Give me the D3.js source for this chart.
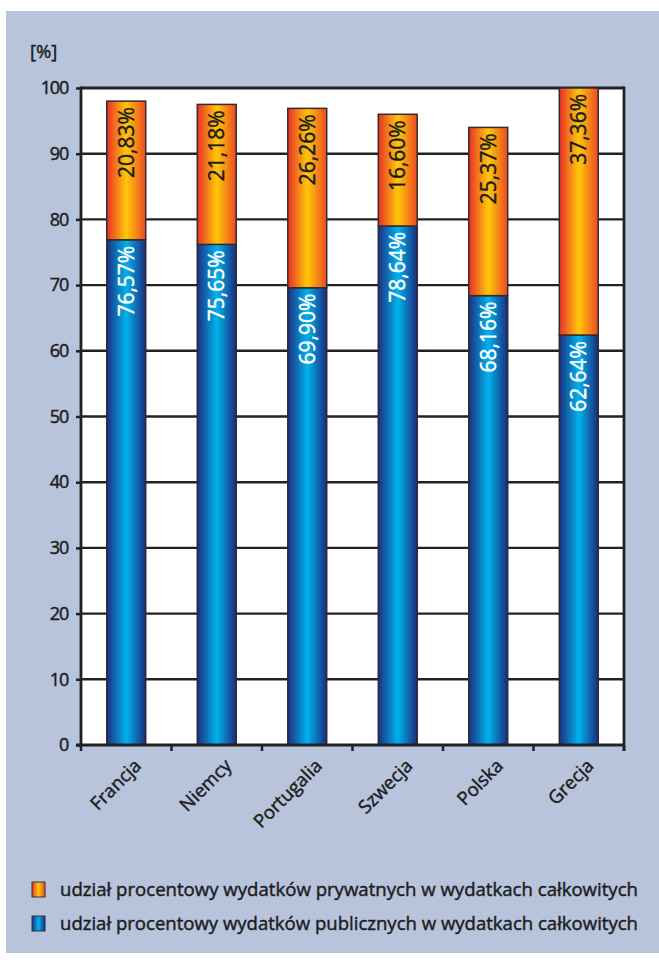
<!DOCTYPE html>
<html><head><meta charset="utf-8">
<script src="https://cdn.jsdelivr.net/npm/d3@7"></script>
<style>
html,body{margin:0;padding:0;background:#fff;}
svg{display:block;font-family:"Open Sans","Noto Sans",sans-serif;}
</style></head>
<body>
<svg id="c" width="659" height="965"></svg>
<script>
const categories = ["Francja","Niemcy","Portugalia","Szwecja","Polska","Grecja"];
// drawn heights
const publicValues = [76.9, 76.2, 69.6, 79.0, 68.4, 62.4];
const privateValues = [21.1, 21.3, 27.3, 17.0, 25.6, 37.6];
// printed labels
const publicLabels = ["76,57%","75,65%","69,90%","78,64%","68,16%","62,64%"];
const privateLabels = ["20,83%","21,18%","26,26%","16,60%","25,37%","37,36%"];
const yTicks = [0,10,20,30,40,50,60,70,80,90,100];
const legendLabels = ["udział procentowy wydatków prywatnych w wydatkach całkowitych",
                      "udział procentowy wydatków publicznych w wydatkach całkowitych"];

const svg = d3.select("#c");
svg.append("rect").attr("x",6).attr("y",11).attr("width",653).attr("height",942).attr("fill","#b8c3dc");

const L=81, R=624, T=88, B=745;
const x = d3.scaleBand().domain(categories).range([L,R]).paddingInner(0.57).paddingOuter(0.285);
const y = d3.scaleLinear().domain([0,100]).range([B,T]);

const defs = svg.append("defs");
const go = defs.append("linearGradient").attr("id","gOr").attr("x1","0").attr("x2","1").attr("y1","0").attr("y2","0");
[[0,"#e8302a"],[0.5,"#ffc808"],[1,"#ec4a24"]].forEach(s=>go.append("stop").attr("offset",s[0]).attr("stop-color",s[1]));
const gb = defs.append("linearGradient").attr("id","gBl").attr("x1","0").attr("x2","1").attr("y1","0").attr("y2","0");
[[0,"#1d2f80"],[0.5,"#00b3ee"],[1,"#1b2c7c"]].forEach(s=>gb.append("stop").attr("offset",s[0]).attr("stop-color",s[1]));

// plot area
svg.append("rect").attr("x",L).attr("y",T).attr("width",R-L).attr("height",B-T).attr("fill","#fff");

// gridlines
svg.append("g").selectAll("line").data(yTicks.filter(d=>d>0)).join("line")
  .attr("x1",L).attr("x2",R).attr("y1",d=>y(d)).attr("y2",d=>y(d))
  .attr("stroke","#222").attr("stroke-width",d=>d===100?3:2.4);
// right frame
svg.append("line").attr("x1",R).attr("x2",R).attr("y1",T-1.5).attr("y2",B+6).attr("stroke","#222").attr("stroke-width",2.8);

const ink = "#1d1d1d";
function heavy(sel, col){ return sel.attr("stroke",col).attr("stroke-width",0.45).attr("paint-order","stroke"); }

// bars
const bars = svg.append("g");
categories.forEach((c,i)=>{
  const bx = x(c), bw = x.bandwidth();
  bars.append("rect").attr("x",bx).attr("width",bw)
    .attr("y",y(publicValues[i])).attr("height",y(0)-y(publicValues[i]))
    .attr("fill","url(#gBl)").attr("stroke","#2a2a3a").attr("stroke-width",1.5);
  const top = publicValues[i]+privateValues[i];
  bars.append("rect").attr("x",bx).attr("width",bw)
    .attr("y",y(top)).attr("height",y(publicValues[i])-y(top))
    .attr("fill","url(#gOr)").attr("stroke","#3a2a2a").attr("stroke-width",1.5);
  const cx = bx + bw/2 + 7.5;
  heavy(bars.append("text").attr("transform",`translate(${cx},${y(top)+6}) rotate(-90)`)
    .attr("text-anchor","end").attr("font-size",21).attr("fill",ink).text(privateLabels[i]), ink);
  heavy(bars.append("text").attr("transform",`translate(${cx},${y(publicValues[i])+6}) rotate(-90)`)
    .attr("text-anchor","end").attr("font-size",21).attr("fill","#fff").text(publicLabels[i]), "#fff");
});

// y axis
const ya = svg.append("g").attr("transform",`translate(${L},0)`)
  .call(d3.axisLeft(y).tickValues(yTicks).tickSize(5).tickPadding(8));
ya.select(".domain").attr("stroke","#222").attr("stroke-width",2.8).attr("d",`M0,${T-1.5}V${B}`);
ya.selectAll(".tick line").attr("stroke","#222").attr("stroke-width",2.5);
heavy(ya.selectAll(".tick text").attr("font-size",18).attr("fill",ink).attr("font-family","Open Sans").attr("letter-spacing",-1.2), ink);

// x axis
const xa = svg.append("g").attr("transform",`translate(0,${B})`);
xa.append("line").attr("x1",L-5).attr("x2",R).attr("y1",0).attr("y2",0).attr("stroke","#222").attr("stroke-width",3);
const bounds = d3.range(categories.length+1).map(k=>L+k*(R-L)/categories.length);
xa.selectAll("line.t").data(bounds).join("line").attr("class","t")
  .attr("x1",d=>d).attr("x2",d=>d).attr("y1",0).attr("y2",6).attr("stroke","#222").attr("stroke-width",2.5);
heavy(xa.selectAll("text").data(categories).join("text")
  .attr("transform",d=>`translate(${x(d)+x.bandwidth()/2+16},22) rotate(-45)`)
  .attr("text-anchor","end").attr("font-size",18.5).attr("fill",ink).text(d=>d), ink);

heavy(svg.append("text").attr("x",30).attr("y",58).attr("font-size",18.5).attr("fill",ink).text("[%]"), ink);

// legend
const lg = svg.append("g");
const fills = ["url(#gOr)","url(#gBl)"];
legendLabels.forEach((t,i)=>{
  lg.append("rect").attr("x",32).attr("y",882+i*34).attr("width",13).attr("height",15)
    .attr("fill",fills[i]).attr("stroke","#333").attr("stroke-width",1);
  heavy(lg.append("text").attr("x",60).attr("y",896+i*34).attr("font-size",18.5)
    .attr("fill",ink).attr("textLength",578).attr("lengthAdjust","spacingAndGlyphs").text(t), ink);
});
</script>
</body></html>
